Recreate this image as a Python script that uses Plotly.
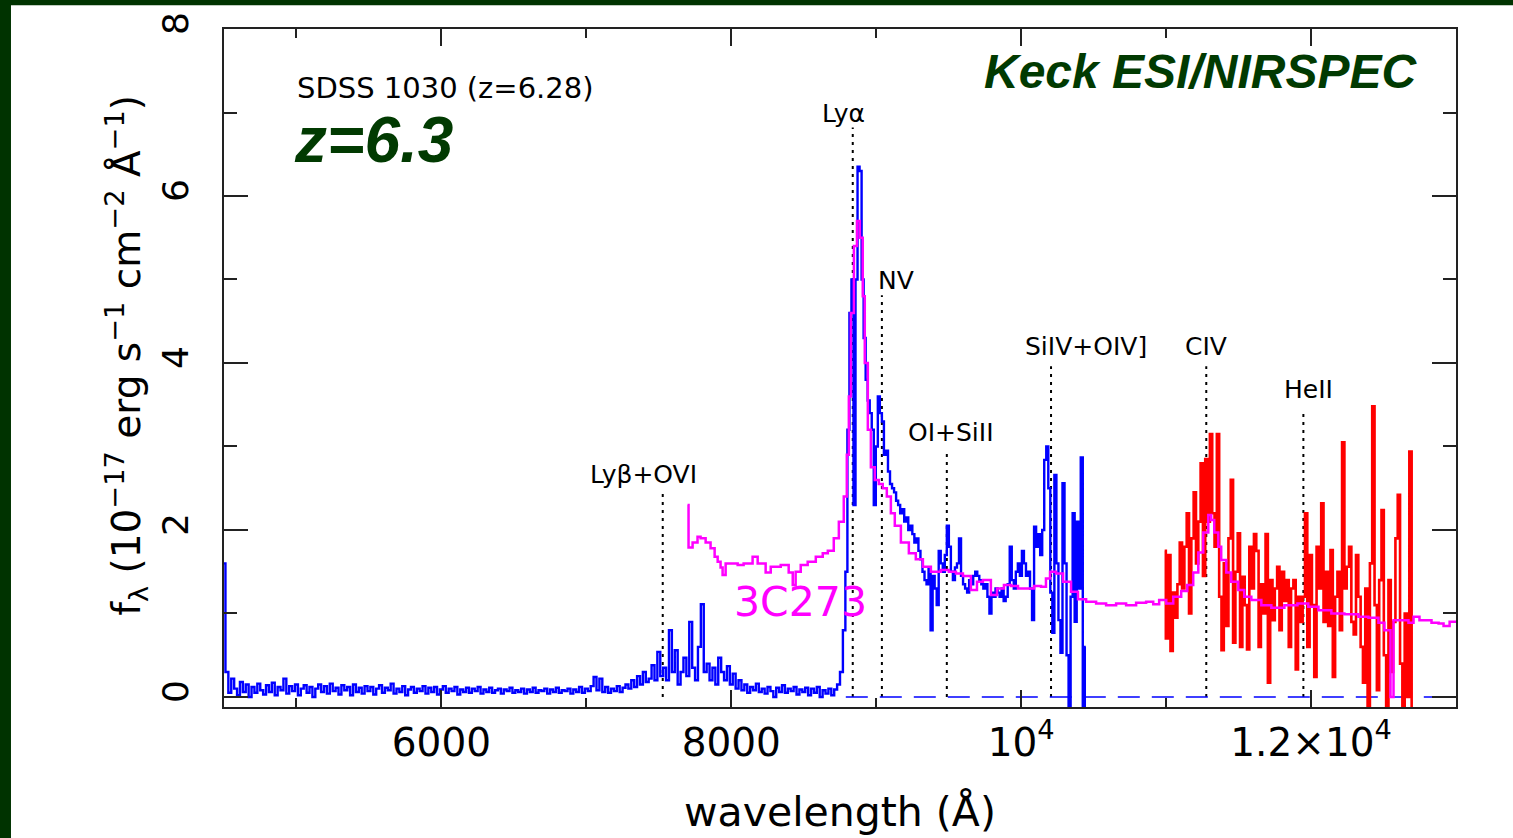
import plotly.graph_objects as go

# ---------------- data ----------------
# Blue spectrum (Keck ESI) part A: 4500-8760 A, 20 A bins
blue_a_start = 4500
blue_a_step = 20
blue_a_flux = [
    1.6, 0.3, 0.05, 0.22, 0.1,
    0.02, 0.18, 0.06, 0.15, 0.0,
    0.12, 0.05, 0.16, 0.08, 0.03,
    0.14, 0.06, 0.17, 0.02, 0.12,
    0.08, 0.22, 0.04, 0.13, 0.07,
    0.15, 0.02, 0.1, 0.14, 0.05,
    0.12, 0.0, 0.1, 0.15, 0.06,
    0.13, 0.04, 0.16, 0.07, 0.11,
    0.03, 0.14, 0.08, 0.12, 0.02,
    0.15, 0.06, 0.11, 0.04, 0.13,
    0.07, 0.12, 0.03, 0.1, 0.14,
    0.05, 0.11, 0.08, 0.16, 0.04,
    0.1, 0.06, 0.13, 0.02, 0.09,
    0.12, 0.05, 0.1, 0.07, 0.13,
    0.04, 0.11, 0.06, 0.12, 0.03,
    0.09, 0.13, 0.05, 0.1, 0.07,
    0.12, 0.03, 0.09, 0.06, 0.11,
    0.05, 0.1, 0.07, 0.12, 0.04,
    0.09, 0.06, 0.11, 0.05, 0.08,
    0.1, 0.04, 0.09, 0.07, 0.11,
    0.05, 0.08, 0.06, 0.1, 0.04,
    0.09, 0.06, 0.11, 0.05, 0.08,
    0.07, 0.1, 0.04, 0.09, 0.06,
    0.11, 0.05, 0.08, 0.07, 0.1,
    0.04, 0.09, 0.06, 0.12, 0.05,
    0.1, 0.07, 0.13, 0.24, 0.08,
    0.22, 0.06, 0.12, 0.05, 0.1,
    0.07, 0.13, 0.06, 0.11, 0.15,
    0.1, 0.2, 0.12, 0.25, 0.15,
    0.3, 0.18, 0.22, 0.38, 0.2,
    0.54, 0.25, 0.35, 0.2, 0.8,
    0.3, 0.56, 0.15, 0.3, 0.47,
    0.25, 0.9, 0.35, 0.2, 0.6,
    1.11, 0.3, 0.4, 0.2, 0.35,
    0.15, 0.47, 0.3, 0.2, 0.37,
    0.15, 0.28, 0.1, 0.2, 0.08,
    0.15, 0.05, 0.12, 0.08, 0.16,
    0.06, 0.1, 0.04, 0.12, 0.07,
    0.0, 0.11, 0.06, 0.14, 0.05,
    0.1, 0.07, 0.12, 0.03, 0.09,
    0.06, 0.11, 0.02, 0.1, 0.05,
    0.12, 0.0, 0.08, 0.04, 0.1,
    0.02, 0.09, 0.15, 0.3,
]
# Blue spectrum part B: 8780-10446 A, 14 A bins
blue_b_start = 8780
blue_b_step = 14
blue_b_flux = [
    0.8, 1.5, 3.2, 4.6, 5.0, 2.3, 5.0, 6.35, 6.3, 5.0,
    4.3, 3.8, 3.55, 3.4, 3.2, 2.3, 3.0, 3.6, 3.4, 3.3,
    2.9, 2.95, 2.7, 2.55, 2.5, 2.45, 2.35, 2.3, 2.2, 2.25,
    2.1, 2.15, 2.0, 2.05, 1.95, 1.85, 1.9, 1.75, 1.65, 1.5,
    1.4, 1.35, 1.55, 0.8, 1.45, 1.3, 1.1, 1.75, 1.6, 1.5,
    1.7, 2.05, 1.8, 1.5, 1.4, 1.55, 1.6, 1.9, 1.45, 1.35,
    1.3, 1.25, 1.4, 1.35, 1.45, 1.5, 1.45, 1.4, 1.35, 1.3,
    1.35, 1.2, 1.0, 1.25, 1.2, 1.3, 1.25, 1.2, 1.3, 1.15,
    1.2, 1.35, 1.8, 1.4, 1.3, 1.5, 1.6, 1.45, 1.75, 1.6,
    1.45, 1.5, 1.3, 0.92, 2.04, 1.8, 1.95, 1.7, 2.0, 2.84,
    3.0, 2.5, 1.25, 0.77, 2.66, 1.6, 0.92, 0.53, 2.56, 1.6,
    0.5, -0.2, 1.2, 2.2, 0.9, 2.1, 1.3, 2.87, -0.2, 0.6,
]
# Red spectrum (Keck NIRSPEC): 10990-12702 A, 16 A bins
red_start = 10990
red_step = 16
red_flux = [
    1.75, 0.7, 1.7, 0.55, 1.25, 0.95, 1.35, 1.85, 1.3, 1.8,
    2.2, 1.0, 1.9, 2.45, 1.6, 2.1, 2.8, 1.45, 2.85, 2.1,
    3.15, 2.2, 1.8, 3.15, 1.2, 0.56, 1.6, 0.85, 1.9, 2.6,
    0.65, 1.5, 1.96, 0.6, 1.44, 1.1, 0.57, 1.8, 1.3, 1.95,
    1.75, 0.6, 1.35, 1.0, 1.95, 0.17, 1.4, 0.92, 1.3, 1.56,
    0.8, 1.5, 1.15, 1.4, 0.6, 1.3, 1.4, 0.33, 1.2, 0.9,
    1.2, 2.2, 0.6, 1.7, 1.1, 0.24, 1.8, 1.3, 2.32, 0.9,
    1.5, 0.85, 1.76, 0.24, 1.2, 1.5, 0.8, 3.05, 1.3, 1.56,
    1.8, 0.9, 0.75, 1.7, 1.2, 0.6, 0.17, 1.3, -0.2, 1.6,
    3.48, 1.1, 0.08, 1.4, 2.24, 0.5, -0.2, 1.4, 0.3, 0.9,
    1.9, 2.42, 0.4, -0.2, 1.0, 0.0, 2.94, -0.2,
]
# 3C273 template (magenta)
tmpl_wl = [
    7698, 7705, 7733, 7767, 7788, 7823, 7857, 7885, 7906, 7926,
    7940, 7961, 7995, 8044, 8085, 8147, 8182, 8237, 8272, 8341,
    8396, 8424, 8444, 8479, 8527, 8583, 8631, 8666, 8707, 8742,
    8776, 8797, 8811, 8825, 8846, 8867, 8887, 8907, 8921, 8942,
    8963, 8990, 9018, 9045, 9073, 9101, 9128, 9170, 9225, 9273,
    9322, 9377, 9446, 9501, 9550, 9598, 9653, 9695, 9736, 9791,
    9833, 9881, 9930, 9978, 10033, 10089, 10137, 10171, 10199, 10240,
    10289, 10344, 10392, 10448, 10517, 10586, 10655, 10724, 10793, 10862,
    10911, 10952, 11001, 11049, 11104, 11146, 11187, 11222, 11256, 11291,
    11311, 11332, 11360, 11380, 11415, 11449, 11498, 11539, 11588, 11657,
    11726, 11816, 11906, 11981, 12051, 12140, 12230, 12327, 12396, 12465,
    12506, 12541, 12548, 12562, 12569, 12610, 12672, 12707, 12748, 12783,
    12831, 12880, 12914, 12956, 13011,
]
tmpl_flux = [
    2.3, 1.79, 1.85, 1.92, 1.9, 1.85, 1.78, 1.68, 1.62, 1.55,
    1.46, 1.6, 1.6, 1.58, 1.6, 1.68, 1.6, 1.49, 1.56, 1.58,
    1.49, 1.34, 1.5, 1.58, 1.62, 1.68, 1.72, 1.75, 1.9, 2.1,
    2.4, 2.9, 3.6, 4.6, 5.4, 5.7, 5.5, 4.8, 4.0, 3.2,
    2.75, 2.6, 2.55, 2.5, 2.4, 2.2, 2.05, 1.85, 1.72, 1.65,
    1.56, 1.5, 1.52, 1.5, 1.48, 1.45, 1.28, 1.38, 1.4, 1.22,
    1.3, 1.34, 1.33, 1.3, 1.3, 1.33, 1.32, 1.42, 1.5, 1.48,
    1.38, 1.26, 1.17, 1.14, 1.12, 1.1, 1.12, 1.1, 1.13, 1.14,
    1.11, 1.16, 1.12, 1.2, 1.27, 1.34, 1.49, 1.73, 1.97, 2.18,
    2.12, 1.97, 1.8, 1.64, 1.49, 1.38, 1.28, 1.2, 1.16, 1.1,
    1.07, 1.1, 1.12, 1.08, 1.04, 1.0, 0.99, 0.96, 0.95, 0.89,
    0.8, 0.8, 0.0, 0.0, 0.92, 0.92, 0.89, 0.96, 0.92, 0.92,
    0.89, 0.88, 0.85, 0.9, 0.95,
]
# Emission-line markers
line_names = ["Lyβ+OVI", "Lyα", "NV", "OI+SiII", "SiIV+OIV]", "CIV", "HeII"]
line_wl = [7527, 8838, 9039, 9487, 10206, 11277, 11947]
line_top = [2.48, 6.82, 4.81, 2.96, 3.96, 3.96, 3.42]
label_wl = [7394, 8776, 9135, 9515, 10448, 11277, 11981]
label_y = [2.67, 6.99, 4.99, 3.17, 4.2, 4.2, 3.68]
zero_line_wl = [8790, 13000]

x_ticks = [6000, 8000, 10000, 12000]
x_ticktext = ["6000", "8000", "10<sup>4</sup>", "1.2×10<sup>4</sup>"]
x_minor = [5000, 7000, 9000, 11000]
y_ticks = [0, 2, 4, 6, 8]
y_minor = [1, 3, 5, 7]

# ---------------- figure ----------------
blue_wl = [blue_a_start + blue_a_step * i for i in range(len(blue_a_flux))] + \
          [blue_b_start + blue_b_step * i for i in range(len(blue_b_flux))]
blue_flux = blue_a_flux + blue_b_flux
red_wl = [red_start + red_step * i for i in range(len(red_flux))]

GREEN = "#013a01"
fig = go.Figure()

for wl, top in zip(line_wl, line_top):
    fig.add_trace(go.Scatter(x=[wl, wl], y=[0, top], mode="lines",
                             line=dict(color="black", width=2, dash="3px,5px")))
fig.add_trace(go.Scatter(x=zero_line_wl, y=[0, 0], mode="lines",
                         line=dict(color="blue", width=1.6, dash="22px,12px")))
fig.add_trace(go.Scatter(x=blue_wl, y=blue_flux, mode="lines",
                         line=dict(color="blue", width=2.4, shape="hvh")))
fig.add_trace(go.Scatter(x=red_wl, y=red_flux, mode="lines",
                         line=dict(color="red", width=2.6, shape="hvh")))
fig.add_trace(go.Scatter(x=tmpl_wl, y=tmpl_flux, mode="lines",
                         line=dict(color="#ff00ff", width=2.5, shape="hv")))

annotations = []
for name, lx, ly in zip(line_names, label_wl, label_y):
    annotations.append(dict(x=lx, y=ly, xref="x", yref="y", text=name, showarrow=False,
                            font=dict(family="DejaVu Sans", size=25, color="black"),
                            xanchor="center", yanchor="middle"))
annotations.append(dict(x=8479, y=1.14, xref="x", yref="y", text="3C273", showarrow=False,
                        font=dict(family="DejaVu Sans", size=41, color="#ff00ff"),
                        xanchor="center", yanchor="middle"))
annotations.append(dict(x=0.0576, y=0.913, xref="paper", yref="paper",
                        text="SDSS 1030 (z=6.28)", showarrow=False,
                        font=dict(family="DejaVu Sans", size=29, color="black"),
                        xanchor="left", yanchor="middle"))
annotations.append(dict(x=0.055, y=0.836, xref="paper", yref="paper",
                        text="z=6.3", showarrow=False,
                        font=dict(family="Liberation Sans", size=64, color=GREEN,
                                  weight="bold", style="italic"),
                        xanchor="left", yanchor="middle"))
annotations.append(dict(x=0.9708, y=0.9366, xref="paper", yref="paper",
                        text="Keck ESI/NIRSPEC", showarrow=False,
                        font=dict(family="Liberation Sans", size=48, color=GREEN,
                                  weight="bold", style="italic"),
                        xanchor="right", yanchor="middle"))
annotations.append(dict(x=-0.079, y=0.519, xref="paper", yref="paper",
                        text="f<sub>λ</sub> (10<sup>−17</sup> erg s<sup>−1</sup> cm<sup>−2</sup> Å<sup>−1</sup>)",
                        showarrow=False, textangle=-90,
                        font=dict(family="DejaVu Sans", size=39, color="black"),
                        xanchor="center", yanchor="middle"))
annotations.append(dict(x=0.5, y=-0.155, xref="paper", yref="paper",
                        text="wavelength (Å)", showarrow=False,
                        font=dict(family="DejaVu Sans", size=41, color="black"),
                        xanchor="center", yanchor="middle"))

shapes = [
    dict(type="rect", xref="paper", yref="paper", x0=-0.19, x1=1.06, y0=1.035, y1=1.05,
         fillcolor="#003300", line=dict(width=0), layer="above"),
    dict(type="rect", xref="paper", yref="paper", x0=-0.19, x1=-0.1729, y0=-0.2, y1=1.05,
         fillcolor="#003300", line=dict(width=0), layer="above"),
]

fig.update_layout(
    width=1513, height=838,
    margin=dict(l=224, r=57, t=29, b=131),
    paper_bgcolor="white", plot_bgcolor="white",
    showlegend=False, hovermode=False,
    annotations=annotations, shapes=shapes,
)
fig.update_xaxes(range=[4500, 13000], showgrid=False, zeroline=False,
                 showline=True, linecolor="#222", linewidth=2, mirror="allticks",
                 ticks="inside", ticklen=17, tickwidth=2, tickcolor="#222",
                 tickvals=x_ticks, ticktext=x_ticktext, ticklabelstandoff=0,
                 tickfont=dict(family="DejaVu Sans", size=39, color="black"),
                 minor=dict(tickvals=x_minor, ticks="inside", ticklen=9, tickwidth=2,
                            tickcolor="#222", showgrid=False))
fig.update_yaxes(range=[-0.12, 8], showgrid=False, zeroline=False,
                 showline=True, linecolor="#222", linewidth=2, mirror="allticks",
                 ticks="inside", ticklen=24, tickwidth=2, tickcolor="#222",
                 tickvals=y_ticks, tickangle=-90, ticklabelstandoff=20,
                 tickfont=dict(family="DejaVu Sans", size=36, color="black"),
                 minor=dict(tickvals=y_minor, ticks="inside", ticklen=13, tickwidth=2,
                            tickcolor="#222", showgrid=False))

fig.write_html("out.html")
